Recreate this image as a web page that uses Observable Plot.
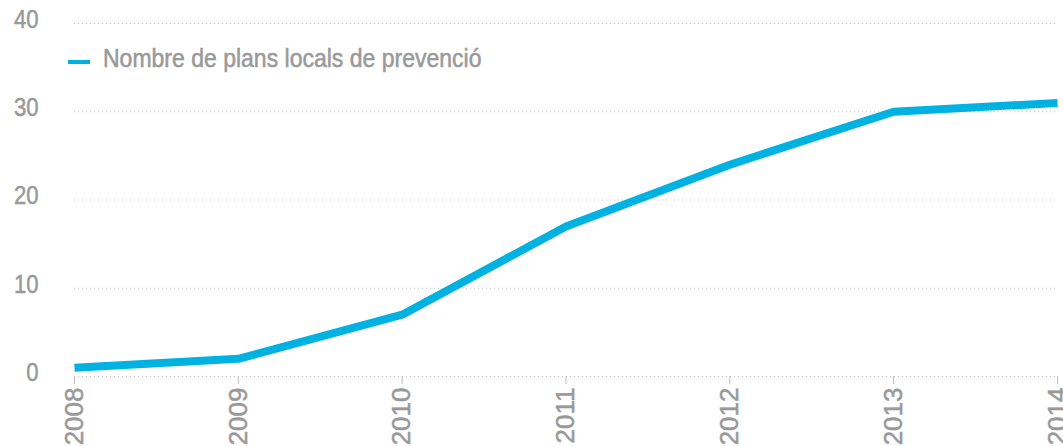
<!DOCTYPE html>
<html>
<head>
<meta charset="utf-8">
<script src="https://cdn.jsdelivr.net/npm/d3@7"></script>
<script src="https://cdn.jsdelivr.net/npm/@observablehq/plot@0.6"></script>
<style>
  html, body { margin: 0; padding: 0; background: #fff; overflow: hidden; }
  #wrap { position: relative; width: 1063px; height: 446px; }
  #legend-sw { position: absolute; left: 68px; top: 60px; width: 22px; height: 4px; background: #00b2e2; }
  #legend-tx { position: absolute; left: 103px; top: 46px; white-space: nowrap;
    font-family: "Liberation Sans", Arial, sans-serif; font-size: 25px; line-height: 25px; color: #999;
    -webkit-text-stroke: 0.5px #999;
    transform: scaleX(0.92); transform-origin: 0 0; }
</style>
</head>
<body>
<div id="wrap"><div id="legend-sw"></div><div id="legend-tx"></div></div>
<script>
const years = [2008, 2009, 2010, 2011, 2012, 2013, 2014];
const plans = [1, 2, 7, 17, 24, 30, 31];
const yTicks = [0, 10, 20, 30, 40];
const seriesName = "Nombre de plans locals de prevenció";

document.getElementById("legend-tx").textContent = seriesName;

const data = years.map((y, i) => ({year: y, value: plans[i]}));
const font = '"Liberation Sans", Arial, sans-serif';

const chart = Plot.plot({
  width: 1063,
  height: 446,
  marginLeft: 74,
  marginRight: 6,
  marginTop: 23,
  marginBottom: 70,
  style: {fontFamily: font, fontSize: "26px", color: "#999", background: "#fff", overflow: "visible"},
  x: {domain: [2008, 2014], ticks: years, tickFormat: d => String(d)},
  y: {domain: [0, 40], ticks: yTicks},
  marks: [
    Plot.ruleY(yTicks, {stroke: "#c4c4c4", strokeDasharray: "1,3", strokeWidth: 1, x1: 2008, x2: 2014.006}),
    Plot.axisX({ticks: years, tickRotate: -90, tickSize: 8, tickPadding: 3, stroke: "#bbb", tickFormat: d => String(d), label: null, fill: "#999", fontSize: 26, className: "xax"}),
    Plot.axisY({ticks: yTicks, tickSize: 0, tickPadding: 36, label: null, fill: "#999", fontSize: 26, dy: -4, className: "yax"}),
    Plot.line(data, {x: "year", y: "value", stroke: "#00b2e2", strokeWidth: 8, strokeLinejoin: "miter", strokeLinecap: "butt"})
  ]
});
// thicken tick label glyphs; condense the y-axis labels horizontally
d3.select(chart).selectAll("text")
  .attr("stroke", "#999").attr("stroke-width", 0.5)
  .each(function() {
    const t = this.getAttribute("transform");
    const rotated = t && t.includes("rotate");
    if (t && t.includes("translate") && !rotated) this.setAttribute("transform", t + " scale(0.85,1)");
  });
document.getElementById("wrap").prepend(chart);
chart.style.position = "absolute";
chart.style.left = "0";
chart.style.top = "0";
</script>
</body>
</html>
